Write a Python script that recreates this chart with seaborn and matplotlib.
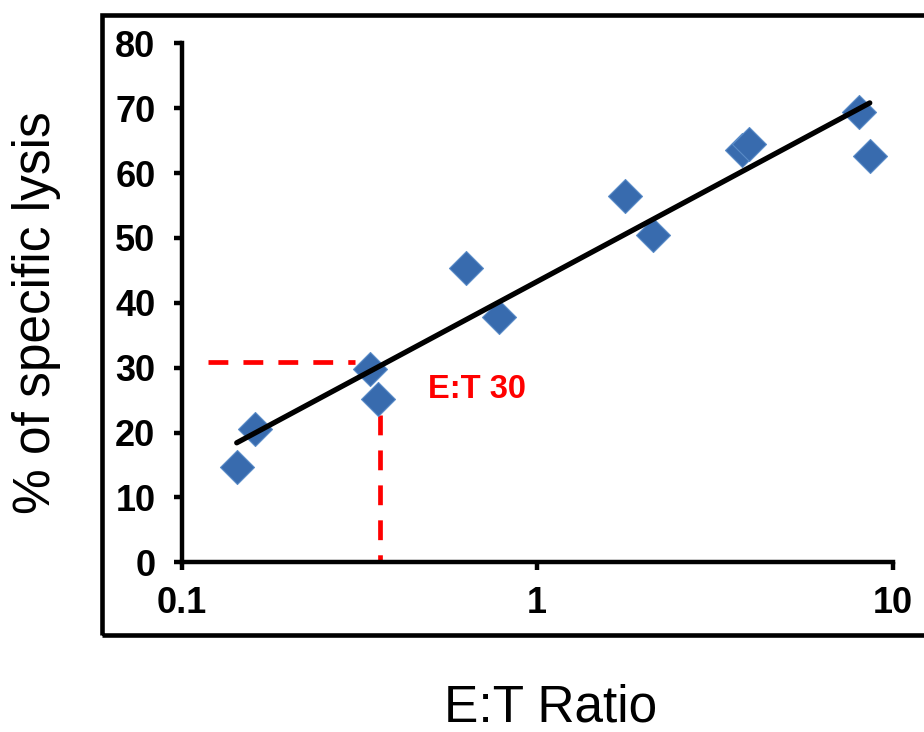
import numpy as np
import pandas as pd
import matplotlib
matplotlib.use("Agg")
import matplotlib.pyplot as plt
import matplotlib.patches as mpatches
import seaborn as sns

# ---- data ----
et_ratio = [0.143, 0.161, 0.338, 0.356, 0.631, 0.781, 1.77, 2.12, 3.77, 3.94, 8.05, 8.62]
lysis = [14.7, 20.6, 29.8, 25.2, 45.4, 37.8, 56.4, 50.5, 63.6, 64.5, 69.4, 62.7]

y_ticks = [0, 10, 20, 30, 40, 50, 60, 70, 80]
x_ticks = [0.1, 1, 10]
x_tick_labels = ["0.1", "1", "10"]

guide_h_x = [0.119, 0.3076]   # horizontal red dashed guide
guide_h_y = [30.8, 30.8]
guide_v_x = [0.3616, 0.3616]  # vertical red dashed guide
guide_v_y = [22.7, 0]
annot_text = "E:T 30"
annot_pos = (0.4934, 26.6)

df = pd.DataFrame({"ratio": et_ratio, "lysis": lysis})

sns.set_style("ticks")
plt.rcParams["font.family"] = ["Liberation Sans", "DejaVu Sans"]
plt.rcParams["text.color"] = "black"
plt.rcParams["xtick.color"] = "black"
plt.rcParams["ytick.color"] = "black"

W, H = 924, 732
fig = plt.figure(figsize=(W / 100, H / 100), dpi=100)

def px(x0, y0, x1, y1):
    return [x0 / W, 1 - y1 / H, (x1 - x0) / W, (y1 - y0) / H]

ax = fig.add_axes(px(181.5, 43.3, 892.7, 562.3))

# outer frame
fig.patches.append(mpatches.Rectangle((102 / W, 1 - 634.5 / H), (935 - 102) / W, (634.5 - 15) / H,
                                      transform=fig.transFigure, fill=False,
                                      edgecolor="black", linewidth=3.3, clip_on=False))

sns.scatterplot(data=df, x="ratio", y="lysis", marker="D", s=300,
                color="#386BAE", edgecolor="#5A8CC8", linewidth=0.8, ax=ax, zorder=2,
                legend=False)
sns.regplot(data=df, x="ratio", y="lysis", logx=True, scatter=False, ci=None,
            truncate=True, ax=ax,
            line_kws={"color": "black", "lw": 3.8, "zorder": 3, "solid_capstyle": "round"})

ax.plot(guide_h_x, guide_h_y, color="#FF0000", lw=3.4, dashes=(4.2, 3.2), zorder=1)
ax.plot(guide_v_x, guide_v_y, color="#FF0000", lw=3.4, dashes=(4.2, 3.2), zorder=1,
        clip_on=False)
ax.text(annot_pos[0], annot_pos[1], annot_text, color="#FF0000", fontsize=23.5,
        fontweight="bold", ha="left", va="center")

ax.set_xscale("log")
ax.set_xlim(0.1, 10)
ax.set_ylim(0, 80)
ax.set_xticks(x_ticks)
ax.set_xticklabels(x_tick_labels)
ax.set_yticks(y_ticks)
ax.minorticks_off()
ax.set_xlabel("")
ax.set_ylabel("")

sns.despine(ax=ax)
for s in ["left", "bottom"]:
    ax.spines[s].set_linewidth(3.2)
    ax.spines[s].set_color("black")
ax.tick_params(axis="both", direction="out", length=5.8, width=3.2, color="black",
               labelsize=26, labelcolor="black")
ax.tick_params(axis="y", pad=13)
ax.tick_params(axis="x", pad=11)
for lab in ax.get_xticklabels() + ax.get_yticklabels():
    lab.set_fontweight("bold")
ax.patch.set_alpha(0)

fig.text(551 / W, 1 - 721 / H, "E:T Ratio", fontsize=37, ha="center", va="baseline",
         color="black")
fig.text(50 / W, 1 - 312.5 / H, "% of specific lysis", fontsize=37, rotation=90,
         rotation_mode="anchor", ha="center", va="baseline", color="black")

fig.savefig("out.png", dpi=100, facecolor="white")
